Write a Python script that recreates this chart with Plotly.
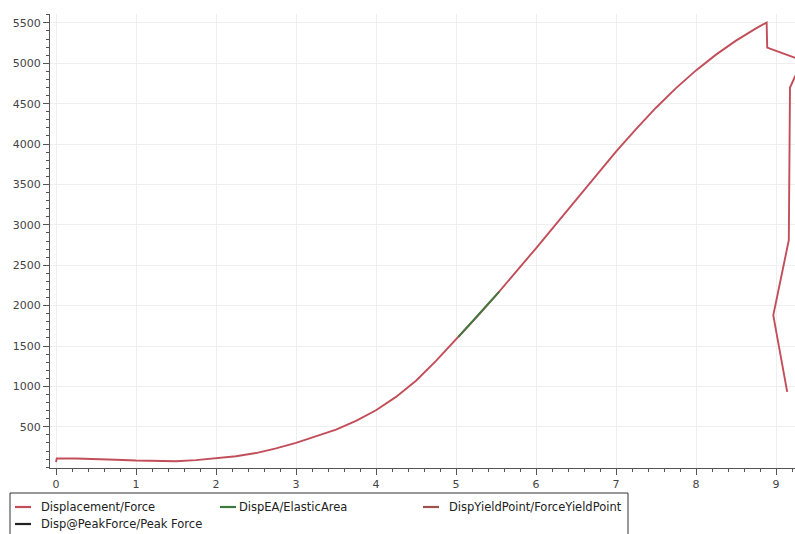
import plotly.graph_objects as go

# Force / displacement record of the test
displacement = [0.0, 0.01, 0.25, 0.5, 0.75, 1.0, 1.25, 1.5, 1.75, 2.0, 2.25, 2.5,
                2.75, 3.0, 3.25, 3.5, 3.75, 4.0, 4.25, 4.5, 4.75, 5.0, 5.25, 5.5,
                5.75, 6.0, 6.25, 6.5, 6.75, 7.0, 7.25, 7.5, 7.75, 8.0, 8.25, 8.5,
                8.75, 8.883, 8.89, 9.05, 9.33, 9.175, 9.16, 8.966, 9.14]
force = [65, 109, 108, 103, 93, 82, 75, 74, 88, 108, 135, 175,
         232, 300, 378, 465, 574, 705, 870, 1070, 1315, 1580, 1850, 2127,
         2415, 2710, 3010, 3312, 3612, 3905, 4185, 4450, 4692, 4912, 5107, 5280,
         5432, 5505, 5195, 5140, 5035, 4700, 2810, 1880, 933]

# Elastic region of the curve
elastic_disp = [5.03, 5.25, 5.5, 5.54]
elastic_force = [1612, 1850, 2127, 2173]

x_ticks = [0, 1, 2, 3, 4, 5, 6, 7, 8, 9]
y_ticks = [500, 1000, 1500, 2000, 2500, 3000, 3500, 4000, 4500, 5000, 5500]

legend_items = [
    ("Displacement/Force", "#c24e5a"),
    ("DispEA/ElasticArea", "#3d7a3d"),
    ("DispYieldPoint/ForceYieldPoint", "#a0524f"),
    ("Disp@PeakForce/Peak Force", "#222222"),
]

W, H = 795, 534
ML, MR, MT, MB = 50, 0, 14, 66
PW, PH = W - ML - MR, H - MT - MB


def fx(px):
    return (px - ML) / PW


def fy(py):
    return (H - MB - py) / PH


fig = go.Figure()
fig.add_trace(go.Scatter(x=displacement, y=force, mode="lines",
                         line=dict(color=legend_items[0][1], width=1.9),
                         showlegend=False))
fig.add_trace(go.Scatter(x=elastic_disp, y=elastic_force, mode="lines",
                         line=dict(color=legend_items[1][1], width=1.9),
                         showlegend=False))

axis_common = dict(
    showline=True, linecolor="#555555", linewidth=1,
    ticks="outside", ticklen=6, tickcolor="#555555",
    showgrid=True, gridcolor="#efefef", gridwidth=1,
    zeroline=False,
    tickfont=dict(family="DejaVu Sans", size=11, color="#444444"),
)

fig.update_xaxes(range=[-0.075, 9.2375], tickmode="array", tickvals=x_ticks,
                 minor=dict(dtick=0.2, tick0=0, ticks="outside", ticklen=3,
                            tickcolor="#555555", showgrid=False),
                 **axis_common)
fig.update_yaxes(range=[-10, 5610], tickmode="array", tickvals=y_ticks,
                 minor=dict(dtick=100, tick0=0, ticks="outside", ticklen=3,
                            tickcolor="#555555", showgrid=False),
                 **axis_common)

# Legend box below the plot
shapes = [dict(type="rect", xref="paper", yref="paper",
               x0=fx(10), x1=fx(628), y0=fy(548), y1=fy(493),
               line=dict(color="#333333", width=1), fillcolor="white", layer="above")]
annotations = []
slots = [(15, 39, 507), (220, 237, 507), (423, 447, 507), (15, 39, 524)]
for (label, color), (sx, tx, ty) in zip(legend_items, slots):
    shapes.append(dict(type="line", xref="paper", yref="paper",
                       x0=fx(sx), x1=fx(sx + 16), y0=fy(ty), y1=fy(ty),
                       line=dict(color=color, width=2.2), layer="above"))
    annotations.append(dict(text=label, xref="paper", yref="paper",
                            x=fx(tx), y=fy(ty), xanchor="left", yanchor="middle",
                            showarrow=False,
                            font=dict(family="DejaVu Sans", size=11.5, color="#222222")))

fig.update_layout(
    width=W, height=H, autosize=False,
    margin=dict(l=ML, r=MR, t=MT, b=MB),
    paper_bgcolor="white", plot_bgcolor="white",
    showlegend=False,
    shapes=shapes, annotations=annotations,
)

fig.write_html("out.html")
